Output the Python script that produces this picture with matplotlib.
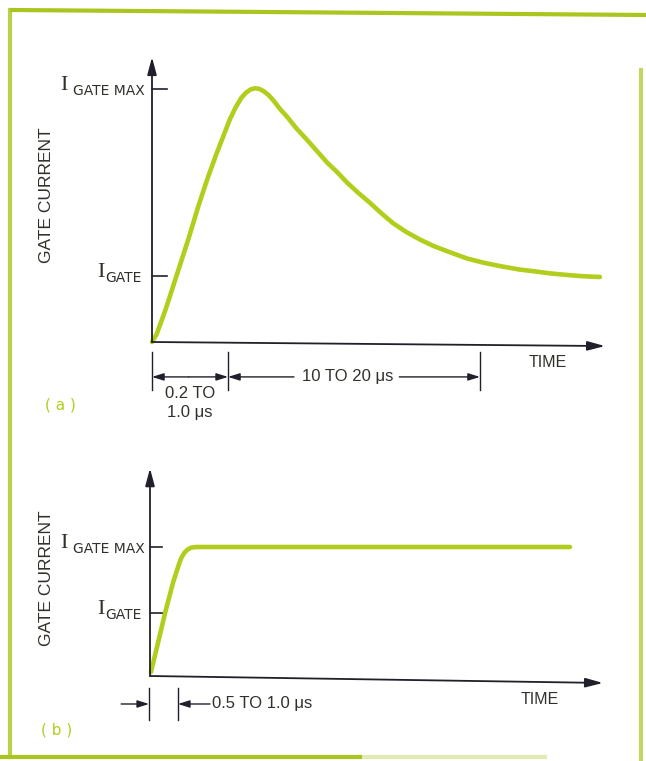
import numpy as np
import matplotlib
matplotlib.use("Agg")
import matplotlib.pyplot as plt
from matplotlib.lines import Line2D

W, H = 646, 761
GREEN = "#b3cd1c"
FRAME = "#a9c51e"
AXIS = "#20202c"
TEXT = "#2f3229"
SANS = ["DejaVu Sans Condensed", "Liberation Sans"]
SERIF = ["Liberation Serif", "DejaVu Serif"]

# (a) gate current with peak, then decay (I_GATE MAX = 1)
TIME_A = [0, 0.1, 0.3, 0.55, 0.8, 1.0, 1.2, 1.4, 1.55, 1.7, 1.82, 1.95, 2.05, 2.15,
          2.25, 2.35, 2.45, 2.55, 2.65, 2.8, 2.95, 3.15, 3.38, 3.6, 3.82, 4.05, 4.26,
          4.5, 4.76, 5.0, 5.26, 5.55, 5.85, 6.14, 6.5, 6.88, 7.25, 7.6, 8.0, 8.32,
          8.7, 9.06, 9.4, 9.78]
CURR_A = [0, 0.03, 0.13, 0.27, 0.41, 0.53, 0.64, 0.74, 0.81, 0.88, 0.925, 0.965, 0.985, 0.998,
          1.003, 1.0, 0.99, 0.975, 0.955, 0.92, 0.89, 0.845, 0.80, 0.755, 0.71, 0.67, 0.63,
          0.59, 0.55, 0.51, 0.47, 0.435, 0.405, 0.38, 0.355, 0.33, 0.313, 0.30, 0.287, 0.28,
          0.271, 0.265, 0.26, 0.257]
LEVELS_A = [1.0, 0.26]          # I_GATE MAX, I_GATE
MARKS_A = [0, 1.66, 7.16]       # rise / decay boundaries

# (b) gate current with fast rise, then flat
TIME_B = [0.02, 0.15, 0.33, 0.5, 0.59, 0.64, 0.69, 0.75, 0.82, 0.9, 1.0, 1.1, 9.17]
CURR_B = [0.03, 0.22, 0.49, 0.72, 0.82, 0.875, 0.92, 0.955, 0.98, 0.995, 1.0, 1.0, 1.0]
LEVELS_B = [1.0, 0.49]
MARKS_B = [-0.02, 0.61]

LEVEL_NAMES = ["GATE MAX", "GATE"]


def panel(fig, box, origin, scale):
    l, t, r, b = box
    ax = fig.add_axes([l / W, 1 - b / H, (r - l) / W, (b - t) / H])
    ax.set_xlim((l - origin[0]) / scale[0], (r - origin[0]) / scale[0])
    ax.set_ylim((origin[1] - b) / scale[1], (origin[1] - t) / scale[1])
    ax.axis("off")
    return ax


def arrow(ax, start, end, big=True, color=AXIS, lw=1.3):
    if big:
        style = "-|>,head_length=0.75,head_width=0.2"
        ms = 14
    else:
        style = "-|>,head_length=0.7,head_width=0.22"
        ms = 10
    ax.annotate("", xy=end, xytext=start,
                arrowprops=dict(arrowstyle=style, color=color, lw=lw,
                                mutation_scale=ms, shrinkA=0, shrinkB=0))


def draw_axes(ax, ytop, xend, tick_len, levels, i_off, g_off):
    arrow(ax, (0, 0), (0, ytop))
    arrow(ax, (0, 0), xend)
    for lev, name, io, go in zip(levels, LEVEL_NAMES, i_off, g_off):
        ax.plot([0, tick_len], [lev, lev], color=AXIS, lw=1.2)
        ax.annotate("I", xy=(0, lev), xytext=(io, 2.5), textcoords="offset points",
                    ha="right", va="center", fontsize=16, family=SERIF, color=TEXT)
        ax.annotate(name, xy=(0, lev), xytext=(go, -1.5), textcoords="offset points",
                    ha="right", va="center", fontsize=10, family="DejaVu Sans", color=TEXT)


def main():
    fig = plt.figure(figsize=(W / 100, H / 100), dpi=100)

    # page frame
    for xs, ys, a in [([12, 646], [10, 15], 1.0), ([10, 10], [10, 757], 0.8),
                      ([0, 360], [757, 757], 1.0), ([360, 545], [757, 757], 0.35),
                      ([641, 641], [70, 761], 0.7)]:
        fig.add_artist(Line2D([x / W for x in xs], [1 - y / H for y in ys],
                              color=FRAME, lw=3, alpha=a))

    # (a)
    ax = panel(fig, (0, 30, 646, 430), (152, 342), (45.8, 253))
    ax.plot(TIME_A, CURR_A, color=GREEN, lw=3.3, solid_capstyle="round", solid_joinstyle="round")
    draw_axes(ax, 1.126, (9.89, -0.016), 0.33, LEVELS_A, [-61, -34], [-5, -7.2])
    for m in MARKS_A:
        ax.plot([m, m], [-0.04, -0.19], color=AXIS, lw=1.0, clip_on=False)
    yd = -0.138
    arrow(ax, (0.8, yd), (MARKS_A[0], yd), big=False, lw=1.0)
    arrow(ax, (0.8, yd), (MARKS_A[1], yd), big=False, lw=1.0)
    arrow(ax, (3.1, yd), (MARKS_A[1], yd), big=False, lw=1.0)
    arrow(ax, (5.4, yd), (MARKS_A[2], yd), big=False, lw=1.0)
    ax.text(4.28, yd, "10 TO 20 μs", ha="center", va="center", fontsize=12, family=SANS, color=TEXT)
    ax.text(0.83, -0.205, "0.2 TO", ha="center", va="center", fontsize=12, family=SANS, color=TEXT)
    ax.text(0.83, -0.277, "1.0 μs", ha="center", va="center", fontsize=12, family=SANS, color=TEXT)
    ax.text(8.65, -0.083, "TIME", ha="center", va="center", fontsize=11.5, family=SANS, color=TEXT)
    ax.text(-2.31, 0.58, "GATE CURRENT", rotation=90, ha="center", va="center",
            fontsize=12.5, family=SANS, color=TEXT)
    ax.text(-2.01, -0.25, "( a )", ha="center", va="center", fontsize=11, family="DejaVu Sans", color=GREEN)

    # (b)
    ax = panel(fig, (0, 440, 646, 750), (150, 676), (45.8, 129))
    ax.plot(TIME_B, CURR_B, color=GREEN, lw=3.3, solid_capstyle="round", solid_joinstyle="round")
    draw_axes(ax, 1.61, (9.89, -0.054), 0.26, LEVELS_B, [-59, -33], [-3.6, -5.8])
    for m in MARKS_B:
        ax.plot([m, m], [-0.093, -0.34], color=AXIS, lw=1.0, clip_on=False)
    yd = -0.217
    arrow(ax, (-0.63, yd), (MARKS_B[0], yd), big=False, lw=1.0)
    arrow(ax, (1.31, yd), (MARKS_B[1], yd), big=False, lw=1.0)
    ax.text(1.36, yd, "0.5 TO 1.0 μs", ha="left", va="center", fontsize=12, family=SANS, color=TEXT)
    ax.text(8.52, -0.18, "TIME", ha="center", va="center", fontsize=11.5, family=SANS, color=TEXT)
    ax.text(-2.25, 0.76, "GATE CURRENT", rotation=90, ha="center", va="center",
            fontsize=12.5, family=SANS, color=TEXT)
    ax.text(-2.03, -0.42, "( b )", ha="center", va="center", fontsize=11, family="DejaVu Sans", color=GREEN)

    fig.savefig("out.png", dpi=100)


if __name__ == "__main__":
    main()
